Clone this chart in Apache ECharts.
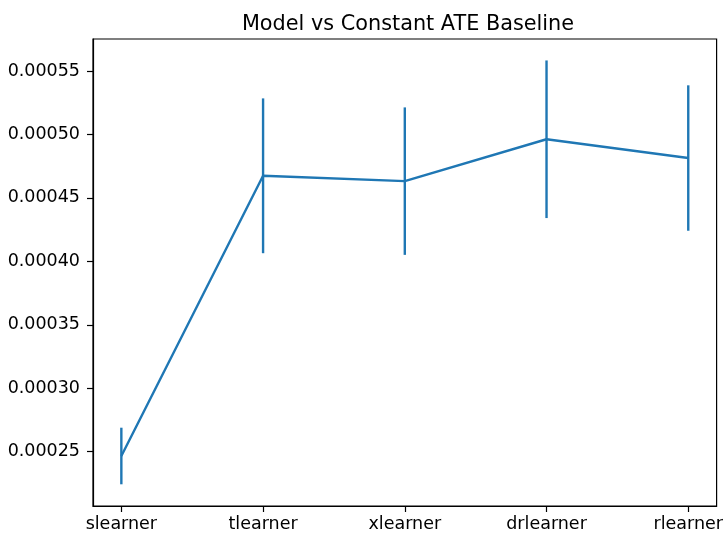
<!DOCTYPE html>
<html>
<head>
<meta charset="utf-8">
<script src="https://cdn.jsdelivr.net/npm/echarts@6/dist/echarts.min.js"></script>
<style>
  html, body { margin: 0; padding: 0; background: #fff; }
  #chart { width: 726px; height: 536px; }
</style>
</head>
<body>
<div id="chart"></div>
<script>
// Learner names along the x axis
const learners = ['slearner', 'tlearner', 'xlearner', 'drlearner', 'rlearner'];
// Mean ATE error per learner
const means = [0.0002466, 0.0004674, 0.0004632, 0.0004962, 0.0004814];
// Half-width of each error bar
const errors = [0.0000223, 0.0000610, 0.0000581, 0.0000621, 0.0000573];
// Y tick values
const yTicks = [0.00025, 0.00030, 0.00035, 0.00040, 0.00045, 0.00050, 0.00055];

const FONT = 'DejaVu Sans';
const BLUE = '#1f77b4';

const idx = learners.map((_, i) => i);
const lineData = means.map((m, i) => [i, m]);
const barData = means.map((m, i) => [i, m - errors[i], m + errors[i]]);

const chart = echarts.init(document.getElementById('chart'), null, { renderer: 'canvas' });
chart.setOption({
  animation: false,
  backgroundColor: '#fff',
  title: {
    text: 'Model vs Constant ATE Baseline',
    left: 403, top: 9, textAlign: 'center',
    textStyle: { fontFamily: FONT, fontSize: 20.8, fontWeight: 'normal', color: '#000' }
  },
  grid: {
    left: 93, right: 6, top: 39, bottom: 30,
    show: true, borderColor: '#000', borderWidth: 1.2, backgroundColor: 'transparent'
  },
  xAxis: {
    type: 'value', min: -0.2, max: 4.2,
    splitLine: { show: false },
    axisLine: { show: true, onZero: false, lineStyle: { color: '#000', width: 1.2 } },
    axisTick: { show: true, inside: false, length: 6, customValues: idx, lineStyle: { color: '#000', width: 1.2 } },
    axisLabel: {
      customValues: idx, margin: 9,
      formatter: v => learners[Math.round(v)],
      fontFamily: FONT, fontSize: 17.5, color: '#000'
    }
  },
  yAxis: {
    type: 'value', min: 0.0002072, max: 0.0005752,
    splitLine: { show: false },
    axisLine: { show: true, onZero: false, lineStyle: { color: '#000', width: 1.2 } },
    axisTick: { show: true, inside: false, length: 6, customValues: yTicks, lineStyle: { color: '#000', width: 1.2 } },
    axisLabel: {
      customValues: yTicks, margin: 13,
      formatter: v => v.toFixed(5),
      fontFamily: FONT, fontSize: 17.5, color: '#000'
    }
  },
  series: [
    {
      type: 'custom',
      data: barData,
      renderItem: function (params, api) {
        const p1 = api.coord([api.value(0), api.value(1)]);
        const p2 = api.coord([api.value(0), api.value(2)]);
        return {
          type: 'line',
          shape: { x1: p1[0], y1: p1[1], x2: p2[0], y2: p2[1] },
          style: { stroke: BLUE, lineWidth: 2.4 }
        };
      },
      z: 3
    },
    {
      type: 'line',
      data: lineData,
      symbol: 'none',
      lineStyle: { color: BLUE, width: 2.4 },
      z: 4
    }
  ]
});
</script>
</body>
</html>
